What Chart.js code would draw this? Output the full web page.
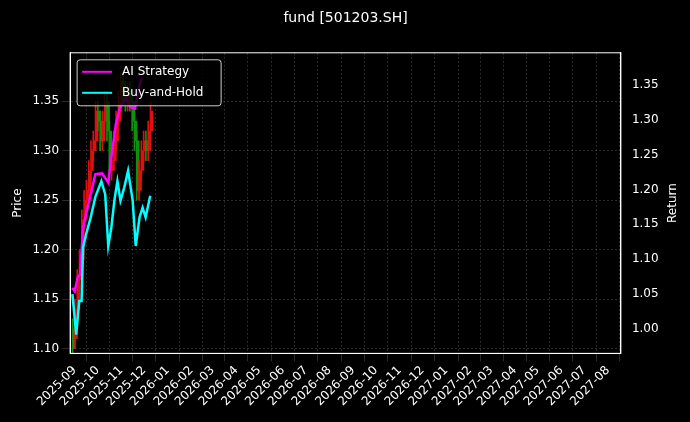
<!DOCTYPE html>
<html><head><meta charset="utf-8">
<script src="https://cdn.jsdelivr.net/npm/chart.js@4"></script>
<style>html,body{margin:0;background:#000}#wrap{width:690px;height:422px}</style>
</head><body><div id="wrap"><canvas id="c"></canvas></div>
<script>
// Datas (dias desde 2025-09-01)
const monthLabels = ['2025-09','2025-10','2025-11','2025-12','2026-01','2026-02','2026-03','2026-04','2026-05','2026-06','2026-07','2026-08','2026-09','2026-10','2026-11','2026-12','2027-01','2027-02','2027-03','2027-04','2027-05','2027-06','2027-07','2027-08'];
const base = Date.UTC(2025, 8, 1);
const monthDays = monthLabels.map((m) => {
  const [y, mo] = m.split('-').map(Number);
  return Math.round((Date.UTC(y, mo - 1, 1) - base) / 86400000);
});

// Velas: dia, abertura, fechamento, mínima, máxima
const candleDays  = [-2,1,4,7,10,13,16,19,22,25,28,31,34,37,40,43,46,49,52,55,58,61,64,67,70,73,76,79,82,85,88,91,94,97,100];
const candleOpen  = [1.12,1.11,1.14,1.17,1.19,1.23,1.25,1.26,1.28,1.30,1.31,1.34,1.33,1.31,1.33,1.35,1.32,1.28,1.29,1.31,1.33,1.35,1.37,1.36,1.35,1.36,1.35,1.33,1.31,1.26,1.28,1.30,1.31,1.30,1.32];
const candleClose = [1.10,1.14,1.17,1.19,1.23,1.25,1.26,1.28,1.30,1.31,1.34,1.33,1.31,1.33,1.35,1.32,1.28,1.29,1.31,1.33,1.35,1.37,1.36,1.35,1.36,1.35,1.33,1.31,1.26,1.28,1.30,1.31,1.30,1.32,1.34];
const candleLow   = [1.09,1.10,1.13,1.16,1.18,1.22,1.24,1.25,1.27,1.29,1.30,1.32,1.30,1.30,1.32,1.31,1.27,1.27,1.28,1.30,1.32,1.34,1.35,1.34,1.34,1.34,1.32,1.30,1.25,1.25,1.27,1.29,1.29,1.29,1.31];
const candleHigh  = [1.13,1.15,1.18,1.20,1.24,1.26,1.27,1.29,1.31,1.32,1.35,1.35,1.34,1.34,1.36,1.36,1.33,1.30,1.32,1.34,1.36,1.38,1.38,1.37,1.37,1.37,1.36,1.34,1.32,1.29,1.31,1.32,1.32,1.33,1.35];

// Linhas de retorno
const aiDays = [-3,0,4,7,11,15,21,27,36,44,48,54,59,67,73,79,85,88];
const aiReturn = [1.059,1.054,1.074,1.078,1.145,1.165,1.193,1.222,1.223,1.210,1.246,1.294,1.316,1.332,1.318,1.316,1.35,1.36];
const bhDays = [-3,2,6,9,11,15,21,27,35,40,44,48,52,56,60,65,70,76,80,85,89,93,99];
const bhReturn = [1.050,0.992,1.040,1.040,1.117,1.136,1.160,1.189,1.212,1.193,1.119,1.145,1.184,1.212,1.184,1.203,1.227,1.184,1.119,1.160,1.174,1.160,1.191];

const pts = (xs, ys) => xs.map((x, i) => ({ x, y: ys[i] }));
const up = candleDays.map((d, i) => candleClose[i] >= candleOpen[i]);
const corVela = up.map((u) => (u ? '#e01010' : '#109010'));
const fonte = { family: 'DejaVu Sans', size: 12 };

const legendaInterna = {
  id: 'legendaInterna',
  afterDraw(chart) {
    const { ctx, chartArea } = chart;
    ctx.save();
    // moldura
    ctx.strokeStyle = '#ffffff'; ctx.lineWidth = 1;
    ctx.strokeRect(chartArea.left, chartArea.top, chartArea.right - chartArea.left, chartArea.bottom - chartArea.top);
    // título do eixo direito
    ctx.fillStyle = '#ffffff';
    ctx.font = '12px "DejaVu Sans"';
    ctx.textAlign = 'center'; ctx.textBaseline = 'middle';
    ctx.save();
    ctx.translate(673, (chartArea.top + chartArea.bottom) / 2);
    ctx.rotate(-Math.PI / 2);
    ctx.fillText('Return', 0, 0);
    ctx.restore();
    // legenda
    const x = chartArea.left + 7, y = chartArea.top + 7;
    ctx.textAlign = 'left';
    ctx.fillStyle = 'rgba(0,0,0,0.8)';
    ctx.strokeStyle = '#cccccc';
    ctx.beginPath();
    ctx.roundRect(x, y, 144, 46, 3);
    ctx.fill(); ctx.stroke();
    [['AI Strategy', '#ff00ff'], ['Buy-and-Hold', '#00ffff']].forEach(([t, c], i) => {
      const yy = y + 12 + i * 21;
      ctx.strokeStyle = c; ctx.lineWidth = 2;
      ctx.beginPath(); ctx.moveTo(x + 5, yy); ctx.lineTo(x + 35, yy); ctx.stroke();
      ctx.fillStyle = '#ffffff';
      ctx.fillText(t, x + 45, yy);
    });
    ctx.restore();
  }
};

const grade = { color: 'rgba(140,140,140,0.5)', lineWidth: 0.6 };
const borda = { color: '#ffffff', dash: [2, 2] };
const tickCor = '#ffffff';

new Chart(document.getElementById('c'), {
  data: {
    datasets: [
      { type: 'bar', data: candleDays.map((d, i) => ({ x: d, y: [candleLow[i], candleHigh[i]] })), backgroundColor: corVela, barThickness: 1, yAxisID: 'y', order: 3 },
      { type: 'bar', data: candleDays.map((d, i) => ({ x: d, y: [candleOpen[i], candleClose[i]] })), backgroundColor: corVela, barThickness: 2, yAxisID: 'y', order: 3 },
      { type: 'line', data: pts(aiDays, aiReturn), borderColor: '#ff00ff', borderWidth: 2.5, pointRadius: 0, yAxisID: 'y1', order: 1 },
      { type: 'line', data: pts(bhDays, bhReturn), borderColor: '#00ffff', borderWidth: 2.5, pointRadius: 0, yAxisID: 'y1', order: 0 }
    ]
  },
  options: {
    responsive: true, maintainAspectRatio: false, animation: false,
    layout: { padding: { left: 7, right: 6, top: 0, bottom: 11 } },
    plugins: {
      legend: { display: false }, tooltip: { enabled: false },
      title: { display: true, text: 'fund [501203.SH]', color: '#ffffff', font: { family: 'DejaVu Sans', size: 14, weight: 'normal' }, padding: { top: 10, bottom: 26 } }
    },
    scales: {
      x: {
        type: 'linear', min: -6, max: 716, offset: false,
        afterBuildTicks: (s) => { s.ticks = monthDays.map((v) => ({ value: v })); },
        ticks: { color: tickCor, maxRotation: 45, minRotation: 45, autoSkip: false, font: fonte, padding: 2,
          callback: (v) => monthLabels[monthDays.indexOf(v)] },
        grid: grade, border: borda
      },
      y: {
        position: 'left', min: 1.0952, max: 1.399,
        afterBuildTicks: (s) => { s.ticks = [1.10, 1.15, 1.20, 1.25, 1.30, 1.35].map((v) => ({ value: v })); },
        ticks: { color: tickCor, font: fonte, callback: (v) => v.toFixed(2) },
        title: { display: true, text: 'Price', color: tickCor, font: fonte },
        grid: grade, border: borda
      },
      y1: {
        position: 'right', min: 0.965, max: 1.396,
        afterBuildTicks: (s) => { s.ticks = [1.00, 1.05, 1.10, 1.15, 1.20, 1.25, 1.30, 1.35].map((v) => ({ value: v })); },
        ticks: { color: tickCor, font: fonte, callback: (v) => v.toFixed(2) },
        title: { display: true, text: 'Return', color: 'rgba(0,0,0,0)', font: fonte },
        grid: { display: false }, border: { color: '#ffffff' }
      }
    }
  },
  plugins: [legendaInterna]
});
</script></body></html>
